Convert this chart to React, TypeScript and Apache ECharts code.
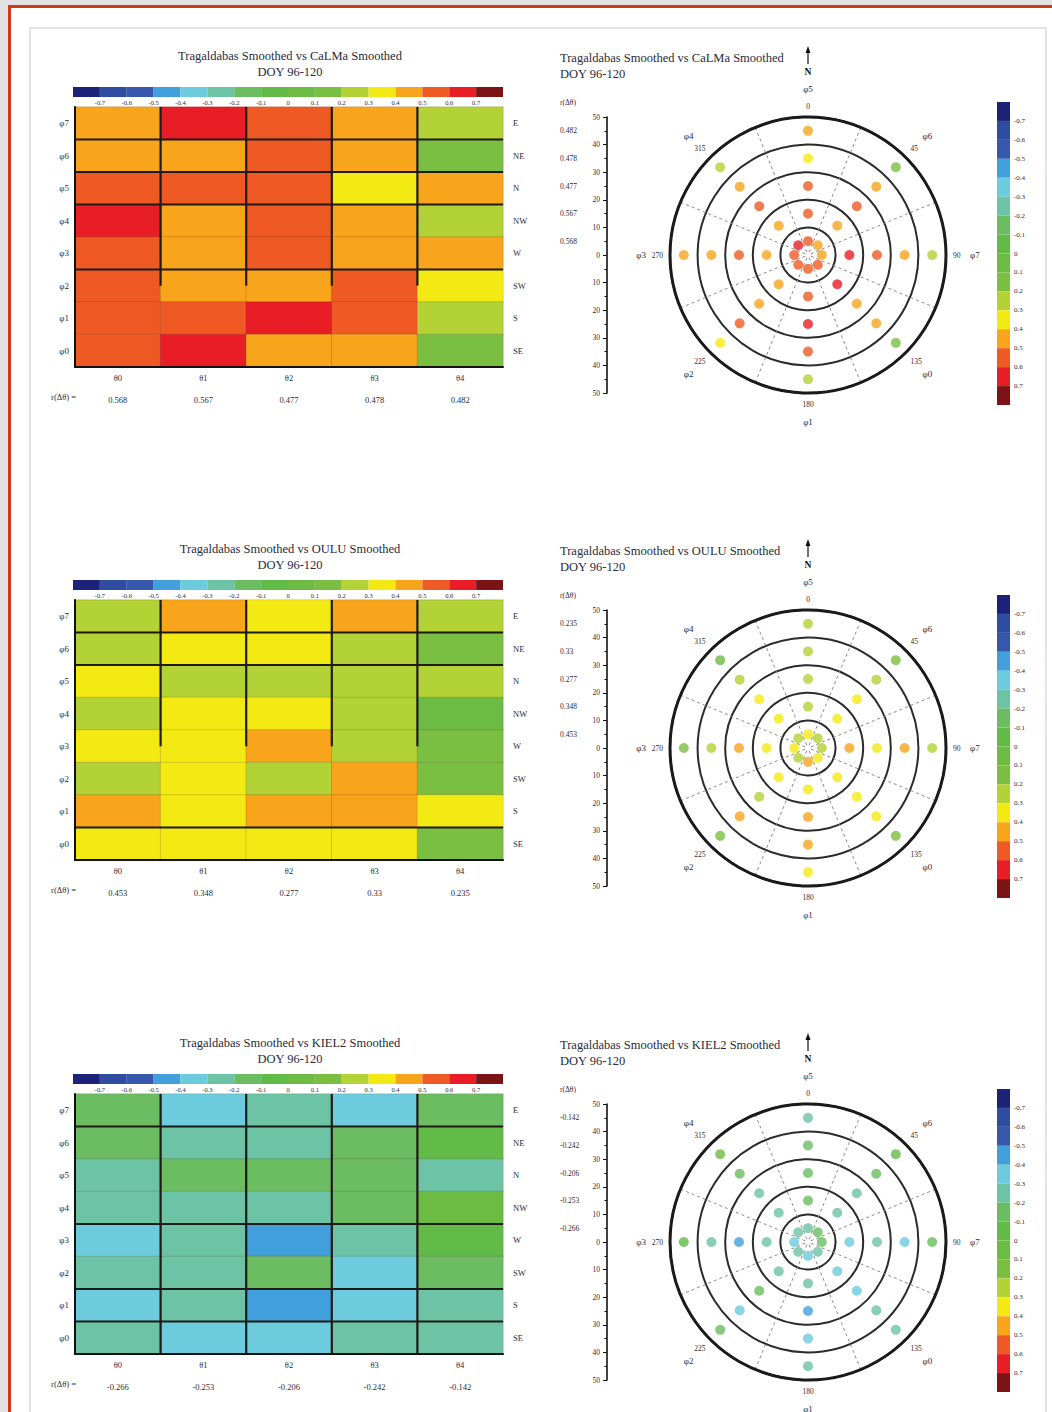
import React, { useEffect, useRef } from 'react';
import * as echarts from 'echarts';

// Zenith-angle bins (columns) and azimuth sectors (rows, top to bottom)
const thetaLabels = ['θ0', 'θ1', 'θ2', 'θ3', 'θ4'];
const dirLabels = ['E', 'NE', 'N', 'NW', 'W', 'SW', 'S', 'SE'];
const phiLabels = ['φ7', 'φ6', 'φ5', 'φ4', 'φ3', 'φ2', 'φ1', 'φ0'];
const dirAngles = [90, 45, 0, 315, 270, 225, 180, 135];
const thetaRadii = [5, 15, 25, 35, 45];

// Colour scale: 15 breaks, 16 classes
const legendBreaks = [-0.7, -0.6, -0.5, -0.4, -0.3, -0.2, -0.1, 0, 0.1, 0.2, 0.3, 0.4, 0.5, 0.6, 0.7];
const legendColors = [
  '#1c2277', '#2f4ca2', '#3657ab', '#41a0dc', '#6ccbdc', '#6cc3a5', '#6cbd62', '#62ba47',
  '#6cbc44', '#7bbf42', '#b2d235', '#f4ea13', '#f8a51b', '#ef5a24', '#e91d25', '#7c1416',
];

// Correlation per cell, rows E..SE, columns θ0..θ4
const calmaCorr = [
  [0.45, 0.64, 0.55, 0.46, 0.26],
  [0.44, 0.46, 0.56, 0.45, 0.16],
  [0.54, 0.55, 0.57, 0.34, 0.43],
  [0.63, 0.45, 0.56, 0.44, 0.24],
  [0.55, 0.46, 0.57, 0.45, 0.42],
  [0.56, 0.44, 0.47, 0.53, 0.35],
  [0.57, 0.54, 0.62, 0.55, 0.27],
  [0.55, 0.65, 0.46, 0.43, 0.14],
];
const calmaR = [0.568, 0.567, 0.477, 0.478, 0.482];

const ouluCorr = [
  [0.24, 0.45, 0.36, 0.44, 0.25],
  [0.26, 0.33, 0.35, 0.27, 0.15],
  [0.34, 0.23, 0.25, 0.24, 0.26],
  [0.25, 0.35, 0.34, 0.24, 0.08],
  [0.36, 0.34, 0.43, 0.25, 0.12],
  [0.24, 0.35, 0.26, 0.45, 0.13],
  [0.44, 0.36, 0.43, 0.46, 0.35],
  [0.35, 0.33, 0.34, 0.36, 0.14],
];
const ouluR = [0.453, 0.348, 0.277, 0.33, 0.235];

const kielCorr = [
  [-0.15, -0.35, -0.25, -0.34, -0.14],
  [-0.16, -0.24, -0.26, -0.13, -0.05],
  [-0.25, -0.14, -0.15, -0.13, -0.26],
  [-0.24, -0.25, -0.23, -0.14, 0.04],
  [-0.35, -0.24, -0.45, -0.25, -0.06],
  [-0.26, -0.25, -0.15, -0.34, -0.14],
  [-0.36, -0.24, -0.44, -0.35, -0.23],
  [-0.25, -0.34, -0.36, -0.24, -0.26],
];
const kielR = [-0.266, -0.253, -0.206, -0.242, -0.142];

const FONT = '"Liberation Serif", "DejaVu Serif", serif';
const INK = '#2a2a3c';

const panels = [
  { name: 'CaLMa', corr: calmaCorr, r: calmaR, top: 0, vEnd: 5.5, hLines: [1, 2, 3, 5] },
  { name: 'OULU', corr: ouluCorr, r: ouluR, top: 493, vEnd: 4.5, hLines: [1, 2, 7] },
  { name: 'KIEL2', corr: kielCorr, r: kielR, top: 987, vEnd: 8, hLines: [1, 4, 6, 7] },
];

const legendBins = legendColors.map((c, i) => [
  i === 0 ? -0.8 : legendBreaks[i - 1],
  i === legendColors.length - 1 ? 0.8 : legendBreaks[i],
  i,
]);

const legendLabel = (v: number) => {
  const r = Math.round(v * 10) / 10;
  if (Math.abs(r) > 0.75) return '';
  return r === 0 ? '0' : r.toFixed(1);
};

const txt = (size: number) => ({ fontSize: size, fontFamily: FONT, color: INK });

function buildOption() {
  const grid: any[] = [];
  const xAxis: any[] = [];
  const yAxis: any[] = [];
  const polar: any[] = [];
  const angleAxis: any[] = [];
  const radiusAxis: any[] = [];
  const series: any[] = [];
  const graphic: any[] = [];
  const mapped: number[] = [];

  panels.forEach((p) => {
    const T = p.top;
    const title = `Tragaldabas Smoothed vs ${p.name} Smoothed`;

    // ---------- heatmap ----------
    const gHeat = grid.length;
    grid.push({ left: 75, top: 107 + T, width: 428, height: 260 });
    const xHeat = xAxis.length;
    xAxis.push({
      gridIndex: gHeat, type: 'category', data: thetaLabels, position: 'bottom', z: 6,
      axisLine: { lineStyle: { color: '#111', width: 2 } },
      axisTick: { length: 4, lineStyle: { color: '#111', width: 1.5 } },
      axisLabel: { ...txt(8.5), margin: 6 },
      splitLine: { show: false },
    });
    xAxis.push({
      gridIndex: gHeat, type: 'category', data: p.r.map(String), position: 'bottom', offset: 22,
      axisLine: { show: false }, axisTick: { show: false },
      axisLabel: { ...txt(8.5), margin: 6 },
    });
    const yHeat = yAxis.length;
    yAxis.push({
      gridIndex: gHeat, type: 'category', data: phiLabels, inverse: true, position: 'left', z: 6,
      axisLine: { lineStyle: { color: '#111', width: 2 } },
      axisTick: { length: 4, lineStyle: { color: '#111', width: 1.5 } },
      axisLabel: { ...txt(9), margin: 6 },
    });
    yAxis.push({
      gridIndex: gHeat, type: 'category', data: dirLabels, inverse: true, position: 'right',
      axisLine: { show: false }, axisTick: { show: false },
      axisLabel: { ...txt(8.5), margin: 10 },
    });
    mapped.push(series.length);
    series.push({
      type: 'heatmap', xAxisIndex: xHeat, yAxisIndex: yHeat,
      data: p.corr.flatMap((row, r) => row.map((v, c) => [c, r, v])),
      itemStyle: { borderColor: 'rgba(70,40,20,0.16)', borderWidth: 1 },
      emphasis: { disabled: true },
    });
    // cell separators
    const segs: number[][] = [
      [1, 1, 0, p.vEnd], [2, 2, 0, p.vEnd], [3, 3, 0, p.vEnd], [4, 4, 0, p.vEnd],
      ...p.hLines.map((h) => [0, 5, h, h]),
    ];
    series.push({
      type: 'custom', xAxisIndex: xHeat, yAxisIndex: yHeat, z: 5, silent: true, clip: false,
      data: segs.map(() => [0, 0]),
      renderItem: (params: any, api: any) => {
        const s = segs[params.dataIndex];
        const c = api.coord([0, 0]);
        const sz = api.size([1, 1]);
        const X = (b: number) => c[0] + (b - 0.5) * sz[0];
        const Y = (b: number) => c[1] + (b - 0.5) * sz[1];
        return {
          type: 'line',
          shape: { x1: X(s[0]), y1: Y(s[2]), x2: X(s[1]), y2: Y(s[3]) },
          style: { stroke: '#1e1a16', lineWidth: 2.2 },
        };
      },
    });

    // ---------- horizontal colour bar ----------
    const gBarH = grid.length;
    grid.push({ left: 73, top: 87 + T, width: 430, height: 10 });
    const xBarH = xAxis.length;
    xAxis.push({
      gridIndex: gBarH, type: 'value', min: -0.8, max: 0.8, interval: 0.1,
      axisLine: { show: false }, axisTick: { show: false }, splitLine: { show: false },
      axisLabel: { ...txt(6.5), margin: 2, formatter: legendLabel },
    });
    const yBarH = yAxis.length;
    yAxis.push({ gridIndex: gBarH, type: 'value', min: 0, max: 1, show: false });
    series.push({
      type: 'custom', xAxisIndex: xBarH, yAxisIndex: yBarH, silent: true,
      encode: { x: [0, 1] },
      data: legendBins,
      renderItem: (params: any, api: any) => {
        const a = api.coord([api.value(0), 1]);
        const b = api.coord([api.value(1), 0]);
        return {
          type: 'rect',
          shape: { x: a[0], y: a[1], width: b[0] - a[0], height: b[1] - a[1] },
          style: { fill: legendColors[api.value(2)] },
        };
      },
    });

    // ---------- radial scale beside the polar plot ----------
    const gScale = grid.length;
    grid.push({ left: 607, top: 117 + T, width: 10, height: 276 });
    xAxis.push({ gridIndex: gScale, type: 'value', min: 0, max: 1, show: false });
    yAxis.push({
      gridIndex: gScale, type: 'value', min: -50, max: 50, interval: 10, position: 'left',
      axisLine: { show: true, lineStyle: { color: '#111', width: 1.6 } },
      axisTick: { show: true, length: 4, lineStyle: { color: '#111' } },
      minorTick: { show: true, splitNumber: 2, length: 2.5, lineStyle: { color: '#111' } },
      splitLine: { show: false },
      axisLabel: { ...txt(7.5), margin: 7, formatter: (v: number) => String(Math.abs(v)) },
    });
    yAxis.push({
      gridIndex: gScale, type: 'value', min: -50, max: 50, position: 'left', offset: 39,
      axisLine: { show: false }, axisTick: { show: false }, splitLine: { show: false },
      axisLabel: {
        ...txt(7.5), margin: 8, align: 'left',
        customValues: thetaRadii,
        formatter: (v: number) => {
          const i = thetaRadii.indexOf(v);
          return i >= 0 ? String(p.r[i]) : '';
        },
      },
    });

    // ---------- vertical colour bar ----------
    const gBarV = grid.length;
    grid.push({ left: 997, top: 102 + T, width: 13, height: 303 });
    const xBarV = xAxis.length;
    xAxis.push({ gridIndex: gBarV, type: 'value', min: 0, max: 1, show: false });
    const yBarV = yAxis.length;
    yAxis.push({
      gridIndex: gBarV, type: 'value', min: -0.8, max: 0.8, interval: 0.1, inverse: true, position: 'right',
      axisLine: { show: false }, axisTick: { show: false }, splitLine: { show: false },
      axisLabel: { ...txt(7), margin: 4, formatter: legendLabel },
    });
    series.push({
      type: 'custom', xAxisIndex: xBarV, yAxisIndex: yBarV, silent: true,
      encode: { y: [0, 1] },
      data: legendBins,
      renderItem: (params: any, api: any) => {
        const a = api.coord([0, api.value(0)]);
        const b = api.coord([1, api.value(1)]);
        return {
          type: 'rect',
          shape: { x: a[0], y: Math.min(a[1], b[1]), width: b[0] - a[0], height: Math.abs(b[1] - a[1]) },
          style: { fill: legendColors[api.value(2)] },
        };
      },
    });

    // ---------- polar plot ----------
    const center = [808, 255 + T];
    const pMain = polar.length;
    polar.push({ center, radius: 138 }, { center, radius: 138 }, { center, radius: 138 });
    angleAxis.push({
      polarIndex: pMain, type: 'value', min: 0, max: 360, interval: 45, startAngle: 90, clockwise: true,
      axisLine: { show: true, lineStyle: { color: '#1a1a1a', width: 3 } },
      axisTick: { show: false }, splitLine: { show: false },
      axisLabel: { ...txt(7.5), margin: 7, formatter: (v: number) => (v >= 360 ? '' : String(v)) },
    });
    radiusAxis.push({
      polarIndex: pMain, type: 'value', min: 0, max: 50, interval: 10,
      axisLine: { show: false }, axisTick: { show: false }, axisLabel: { show: false },
      splitLine: { show: true, lineStyle: { color: '#2b2b2b', width: 2 } },
    });
    angleAxis.push({
      polarIndex: pMain + 1, type: 'value', min: 0, max: 360, interval: 45, startAngle: 67.5, clockwise: true,
      axisLine: { show: false }, axisTick: { show: false }, axisLabel: { show: false },
      splitLine: { show: true, lineStyle: { color: '#8a8a8a', width: 1, type: [3, 3] } },
    });
    radiusAxis.push({
      polarIndex: pMain + 1, type: 'value', min: 0, max: 50,
      axisLine: { show: false }, axisTick: { show: false }, axisLabel: { show: false }, splitLine: { show: false },
    });
    angleAxis.push({
      polarIndex: pMain + 2, type: 'value', min: 0, max: 360, interval: 45, startAngle: 90, clockwise: true,
      axisLine: { show: false }, axisTick: { show: false }, splitLine: { show: false },
      axisLabel: {
        ...txt(9), margin: 24,
        formatter: (v: number) => {
          const i = dirAngles.indexOf(v);
          return v < 360 && i >= 0 ? phiLabels[i] : '';
        },
      },
    });
    radiusAxis.push({
      polarIndex: pMain + 2, type: 'value', min: 0, max: 50,
      axisLine: { show: false }, axisTick: { show: false }, axisLabel: { show: false }, splitLine: { show: false },
    });
    mapped.push(series.length);
    series.push({
      type: 'scatter', coordinateSystem: 'polar', polarIndex: pMain, symbolSize: 10, z: 4,
      data: p.corr.flatMap((row, r) => row.map((v, c) => [thetaRadii[c], dirAngles[r], v])),
      emphasis: { disabled: true },
    });

    // ---------- texts ----------
    const font = (s: number, w = 'normal') => `${w} ${s}px ${FONT}`;
    graphic.push(
      { type: 'text', x: 290, y: 56 + T, style: { text: title, font: font(12.5), fill: INK, align: 'center', verticalAlign: 'middle' } },
      { type: 'text', x: 290, y: 72 + T, style: { text: 'DOY 96-120', font: font(12.5), fill: INK, align: 'center', verticalAlign: 'middle' } },
      { type: 'text', x: 560, y: 58 + T, style: { text: title, font: font(12.5), fill: INK, align: 'left', verticalAlign: 'middle' } },
      { type: 'text', x: 560, y: 74 + T, style: { text: 'DOY 96-120', font: font(12.5), fill: INK, align: 'left', verticalAlign: 'middle' } },
      { type: 'text', x: 76, y: 397 + T, style: { text: 'r(Δθ) =', font: font(8.5), fill: INK, align: 'right', verticalAlign: 'middle' } },
      { type: 'text', x: 560, y: 102 + T, style: { text: 'r(Δθ)', font: font(7.5), fill: INK, align: 'left', verticalAlign: 'middle' } },
      { type: 'line', shape: { x1: 808, y1: 64 + T, x2: 808, y2: 50 + T }, style: { stroke: '#111', lineWidth: 1.2 } },
      { type: 'polygon', shape: { points: [[808, 46 + T], [805.5, 53 + T], [810.5, 53 + T]] }, style: { fill: '#111' } },
      { type: 'text', x: 808, y: 72 + T, style: { text: 'N', font: font(9.5, 'bold'), fill: '#111', align: 'center', verticalAlign: 'middle' } },
    );
  });

  const pieces = legendColors.map((color, i) => {
    if (i === 0) return { lt: legendBreaks[0], color };
    if (i === legendColors.length - 1) return { gte: legendBreaks[legendBreaks.length - 1], color };
    return { gte: legendBreaks[i - 1], lt: legendBreaks[i], color };
  });

  return {
    animation: false,
    backgroundColor: 'transparent',
    textStyle: { fontFamily: FONT },
    grid, xAxis, yAxis, polar, angleAxis, radiusAxis,
    visualMap: { type: 'piecewise', show: false, dimension: 2, seriesIndex: mapped, pieces },
    series,
    graphic: { elements: graphic },
  };
}

export default function App() {
  const ref = useRef<HTMLDivElement>(null);
  useEffect(() => {
    if (!ref.current) return;
    const chart = echarts.init(ref.current, null, { renderer: 'svg', width: 1052, height: 1412 });
    chart.setOption(buildOption() as any);
    return () => chart.dispose();
  }, []);
  return (
    <div style={{ position: 'fixed', left: 0, top: 0, width: 1052, height: 1412, background: '#e2e2e2', overflow: 'hidden' }}>
      <div style={{ position: 'absolute', left: 8, top: 5, right: 0, bottom: 0, background: '#fff', borderLeft: '3px solid #d23a1c', borderTop: '3px solid #d23a1c' }} />
      <div style={{ position: 'absolute', left: 29, top: 27, width: 1014, height: 1400, border: '2px solid #e2e4e7' }} />
      <div ref={ref} style={{ position: 'absolute', left: 0, top: 0, width: 1052, height: 1412 }} />
    </div>
  );
}
